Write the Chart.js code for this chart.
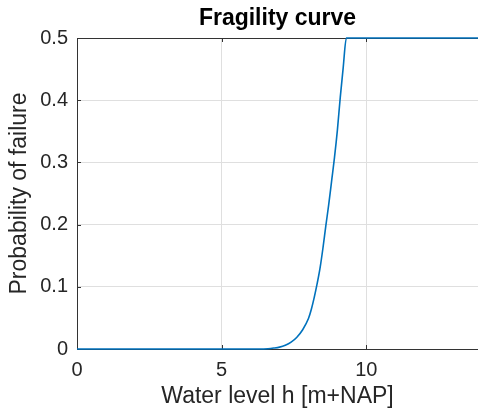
<!DOCTYPE html>
<html>
<head>
<meta charset="utf-8">
<script src="https://cdn.jsdelivr.net/npm/chart.js@4/dist/chart.umd.min.js"></script>
<style>
  html, body { margin: 0; padding: 0; background: #ffffff; overflow: hidden; }
  #wrap { width: 478px; height: 418px; }
</style>
</head>
<body>
<div id="wrap"><canvas id="c" width="478" height="418"></canvas></div>
<script>
// Fragility curve: water level [m+NAP] against probability of failure
const waterLevel = [0, 6.0, 6.3, 6.6, 6.8, 7.0, 7.2, 7.4, 7.6, 7.8, 8.0, 8.1, 8.2, 8.3, 8.4, 8.5,
                    8.6, 8.7, 8.8, 8.9, 9.0, 9.1, 9.2, 9.31, 13.86];
const failureProb = [0, 0, 0, 0.0005, 0.0015, 0.003, 0.006, 0.011, 0.019, 0.031, 0.049, 0.064, 0.083,
                     0.105, 0.130, 0.162, 0.198, 0.232, 0.270, 0.308, 0.352, 0.405, 0.452, 0.5, 0.5];
const xTicks = [0, 5, 10];
const yTicks = [0, 0.1, 0.2, 0.3, 0.4, 0.5];
const xRange = [0, 13.86];
const yRange = [0, 0.5];

const FONT = '"Liberation Sans", Arial, Helvetica, sans-serif';
const AXIS_COLOR = '#333333';
const TEXT_COLOR = '#262626';
const GRID_COLOR = '#dfdfdf';

const points = waterLevel.map((h, i) => ({ x: h, y: failureProb[i] }));

// Box line along the top and inward tick marks, drawn under the curve
const axesFrame = {
  id: 'axesFrame',
  beforeDatasetsDraw(chart) {
    const { ctx, chartArea: a, scales } = chart;
    ctx.save();
    ctx.strokeStyle = AXIS_COLOR;
    ctx.lineWidth = 1;
    ctx.beginPath();
    ctx.moveTo(a.left, a.top + 0.5);
    ctx.lineTo(a.right, a.top + 0.5);
    const len = 4;
    xTicks.forEach(v => {
      if (v === xRange[0]) return;
      const px = Math.round(scales.x.getPixelForValue(v)) + 0.5;
      ctx.moveTo(px, a.bottom); ctx.lineTo(px, a.bottom - len);
      ctx.moveTo(px, a.top); ctx.lineTo(px, a.top + len);
    });
    yTicks.forEach(v => {
      if (v === yRange[0] || v === yRange[1]) return;
      const py = Math.round(scales.y.getPixelForValue(v)) + 0.5;
      ctx.moveTo(a.left, py); ctx.lineTo(a.left + len, py);
    });
    ctx.stroke();
    ctx.restore();
  }
};

// Plot title centred over the axes
const plotTitle = {
  id: 'plotTitle',
  afterDraw(chart) {
    const { ctx, chartArea: a } = chart;
    ctx.save();
    ctx.font = 'bold 23px ' + FONT;
    ctx.fillStyle = '#000000';
    ctx.textAlign = 'center';
    ctx.textBaseline = 'alphabetic';
    ctx.fillText('Fragility curve', (a.left + a.right) / 2, 25);
    ctx.restore();
  }
};

new Chart(document.getElementById('c'), {
  type: 'line',
  data: {
    datasets: [{
      data: points,
      borderColor: '#0072BD',
      borderWidth: 1.6,
      pointRadius: 0,
      cubicInterpolationMode: 'monotone',
      fill: false,
      clip: 4
    }]
  },
  options: {
    responsive: false,
    animation: false,
    devicePixelRatio: 1,
    layout: { padding: { top: 38, right: 0, bottom: 0, left: 0 } },
    plugins: { legend: { display: false }, tooltip: { enabled: false }, title: { display: false } },
    scales: {
      x: {
        type: 'linear',
        min: xRange[0],
        max: xRange[1],
        afterBuildTicks: s => { s.ticks = xTicks.map(v => ({ value: v })); },
        afterFit: s => { s.height = 69; },
        grid: { color: GRID_COLOR, lineWidth: 1, drawTicks: false },
        border: { color: AXIS_COLOR, width: 1 },
        ticks: { padding: 9, color: TEXT_COLOR, maxRotation: 0, autoSkip: false,
                 font: { family: FONT, size: 20 }, callback: v => String(v) },
        title: { display: true, text: 'Water level h [m+NAP]', color: TEXT_COLOR,
                 font: { family: FONT, size: 23 }, padding: { top: 0, bottom: 8 } }
      },
      y: {
        type: 'linear',
        min: yRange[0],
        max: yRange[1],
        afterBuildTicks: s => { s.ticks = yTicks.map(v => ({ value: v })); },
        afterFit: s => { s.width = 77; },
        grid: { color: GRID_COLOR, lineWidth: 1, drawTicks: false },
        border: { color: AXIS_COLOR, width: 1 },
        ticks: { padding: 9, color: TEXT_COLOR, autoSkip: false,
                 font: { family: FONT, size: 20 }, callback: v => String(v) },
        title: { display: true, text: 'Probability of failure', color: TEXT_COLOR,
                 font: { family: FONT, size: 23 }, padding: { top: 6, bottom: 0 } }
      }
    }
  },
  plugins: [axesFrame, plotTitle]
});
</script>
</body>
</html>
